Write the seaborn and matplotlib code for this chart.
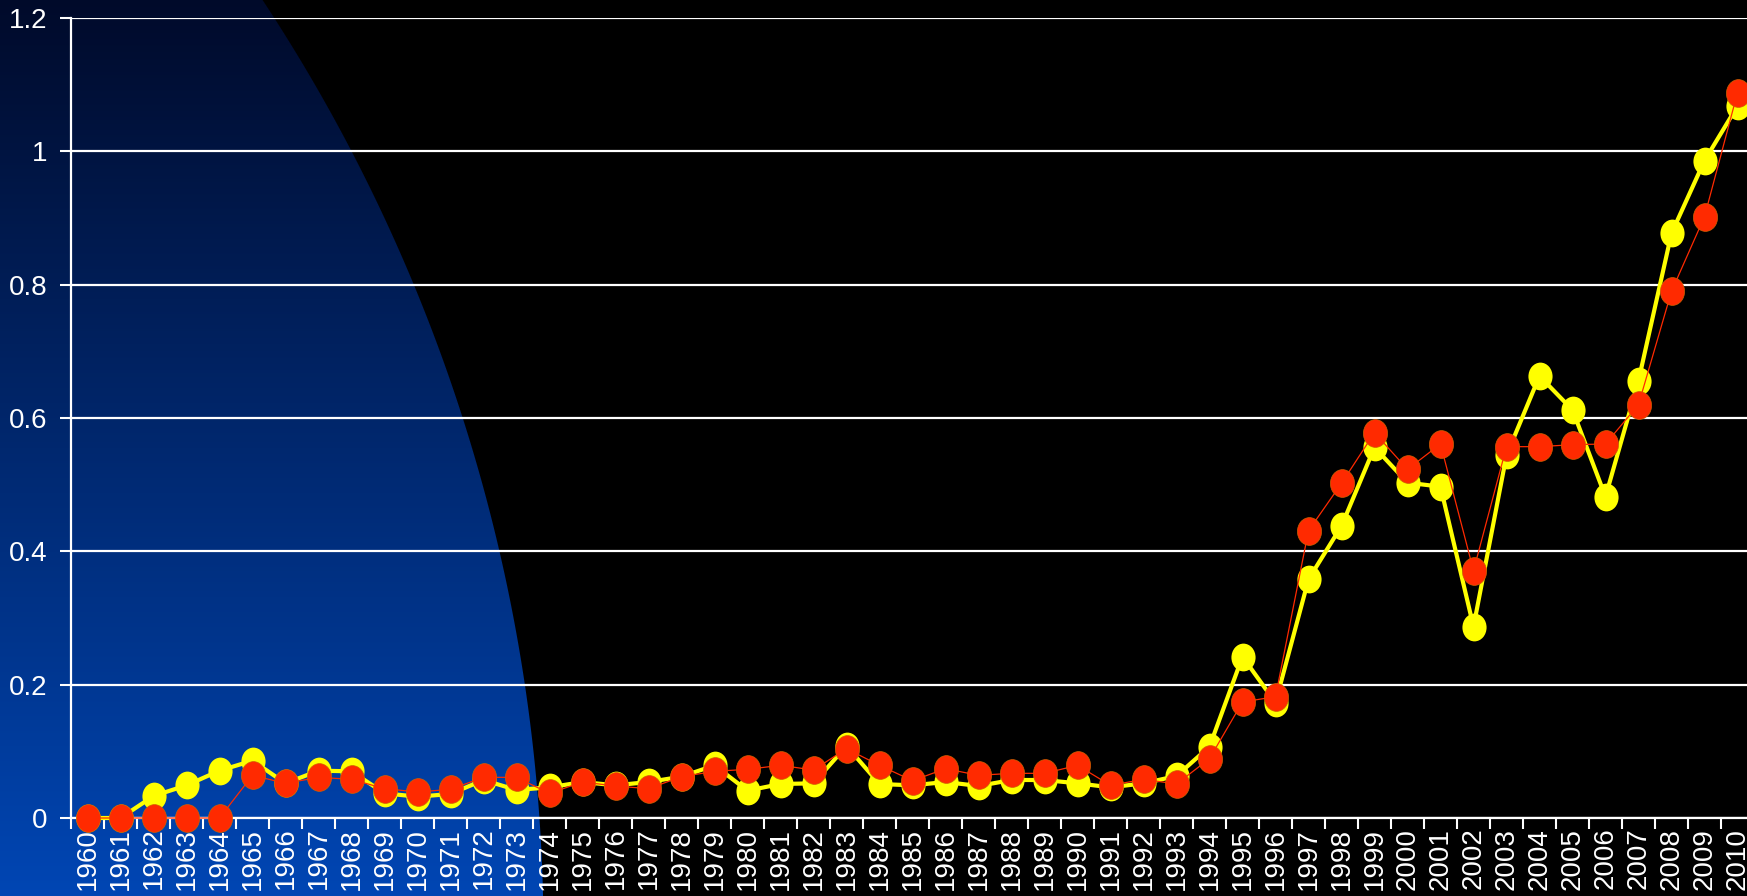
import numpy as np
import pandas as pd
import matplotlib
matplotlib.use("Agg")
import matplotlib.pyplot as plt
import seaborn as sns
from matplotlib.path import Path
from matplotlib.transforms import Affine2D
from matplotlib.ticker import FixedLocator, FixedFormatter, NullFormatter

# values
years = list(range(1960, 2011))
yellow = [0, 0, 0.033, 0.049, 0.071, 0.086, 0.052, 0.071, 0.070, 0.037,
          0.032, 0.036, 0.057, 0.042, 0.046, 0.054, 0.049, 0.054, 0.062, 0.079,
          0.041, 0.051, 0.052, 0.108, 0.051, 0.049, 0.054, 0.048, 0.057, 0.057,
          0.052, 0.046, 0.052, 0.063, 0.107, 0.242, 0.173, 0.358, 0.438, 0.556,
          0.503, 0.497, 0.287, 0.544, 0.663, 0.612, 0.482, 0.656, 0.877, 0.986,
          1.068]
red = [0, 0, 0, 0, 0, 0.064, 0.052, 0.061, 0.058, 0.044,
       0.039, 0.043, 0.061, 0.061, 0.037, 0.054, 0.048, 0.044, 0.062, 0.070,
       0.073, 0.079, 0.072, 0.104, 0.079, 0.056, 0.074, 0.064, 0.067, 0.067,
       0.079, 0.049, 0.058, 0.051, 0.089, 0.174, 0.182, 0.431, 0.502, 0.578,
       0.523, 0.561, 0.371, 0.557, 0.557, 0.560, 0.561, 0.620, 0.790, 0.902,
       1.088]
yticks = [0, 0.2, 0.4, 0.6, 0.8, 1.0, 1.2]

df = pd.DataFrame({"year": years, "yellow": yellow, "red": red})

sns.set_style("dark")
plt.rcParams["font.family"] = ["Liberation Sans", "DejaVu Sans"]

W, H = 1747, 896
fig = plt.figure(figsize=(W / 100, H / 100), dpi=100, facecolor="black")

# background: blue gradient inside a big circle in the lower-left corner
bg = fig.add_axes([0, 0, 1, 1], zorder=-1)
bg.set_axis_off()
yy, xx = np.mgrid[0:H, 0:W]
top = np.array([0, 10, 42]) / 255
bot = np.array([0, 70, 180]) / 255
t = (yy / (H - 1))[..., None]
img = np.zeros((H, W, 4))
img[..., :3] = top * (1 - t) + bot * t
d = np.hypot(xx + 1155, yy - 935)
img[..., 3] = np.clip(1698 - d + 0.5, 0, 1)
bg.imshow(img, extent=(0, W, H, 0), aspect="auto", interpolation="nearest")
bg.set_xlim(0, W)
bg.set_ylim(H, 0)

ax = fig.add_axes([71 / W, 78 / H, (1754 - 71) / W, 800 / H])
ax.set_facecolor("none")

ell = Path.unit_circle().transformed(Affine2D().scale(1, 1.15))

sns.lineplot(data=df, x="year", y="yellow", ax=ax, color="#ffff00", linewidth=3,
             marker=ell, markersize=20, markeredgewidth=0, clip_on=False, zorder=3)
sns.lineplot(data=df, x="year", y="red", ax=ax, color="#ff2a00", linewidth=0.9,
             marker=ell, markersize=20, markeredgewidth=0.5, markeredgecolor="#d06000",
             clip_on=False, zorder=4)

ax.set_xlim(years[0] - 0.5, years[-1] + 0.5)
ax.set_ylim(0, 1.2)
ax.set_xlabel("")
ax.set_ylabel("")

# tick marks between categories, labels centred on them
bounds = [y - 0.5 for y in years] + [years[-1] + 0.5]
ax.xaxis.set_major_locator(FixedLocator(bounds))
ax.xaxis.set_major_formatter(NullFormatter())
ax.xaxis.set_minor_locator(FixedLocator(years))
ax.xaxis.set_minor_formatter(FixedFormatter([str(y) for y in years]))
ax.tick_params(axis="x", which="major", length=8, width=1.5, color="white", bottom=True)
ax.tick_params(axis="x", which="minor", length=0, pad=7, labelsize=20,
               labelcolor="white", labelrotation=90, bottom=True)

ax.set_yticks(yticks)
ax.set_yticklabels([f"{v:g}" for v in yticks])
ax.tick_params(axis="y", length=8, width=1.5, color="white", pad=9,
               labelsize=20, labelcolor="white", left=True)

ax.grid(False)
ax.yaxis.grid(True, color="white", linewidth=1.6)
ax.set_axisbelow(True)
for s in ["top", "right"]:
    ax.spines[s].set_visible(False)
for s in ["left", "bottom"]:
    ax.spines[s].set_visible(True)
    ax.spines[s].set_color("white")
    ax.spines[s].set_linewidth(1.6)
if ax.get_legend():
    ax.get_legend().remove()

fig.savefig("out.png", dpi=100, facecolor="black")
